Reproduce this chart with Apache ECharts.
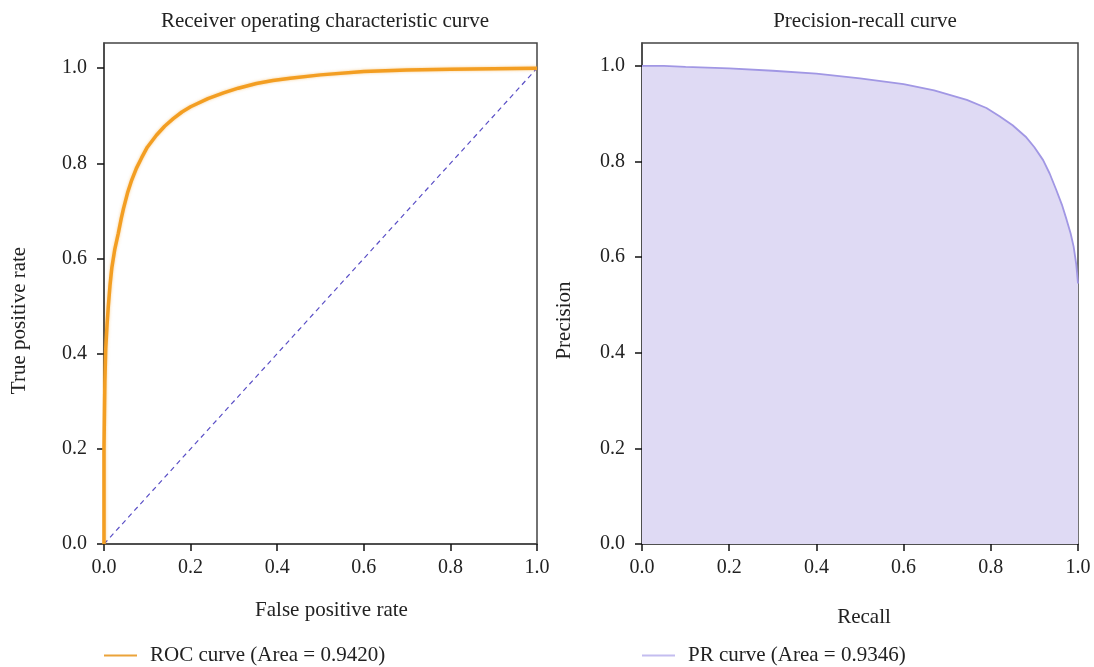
<!DOCTYPE html>
<html>
<head>
<meta charset="utf-8">
<script src="https://cdn.jsdelivr.net/npm/echarts@6/dist/echarts.min.js"></script>
<style>
html,body{margin:0;padding:0;background:#fff;}
#main{width:1094px;height:667px;}
</style>
</head>
<body>
<div id="main"></div>
<script>
// ROC curve points
var rocFpr = [0, 0, 0.002, 0.004, 0.007, 0.01, 0.014, 0.018, 0.025, 0.033, 0.04, 0.045, 0.055, 0.064, 0.075, 0.087, 0.1, 0.121, 0.14, 0.16, 0.18, 0.2, 0.24, 0.276, 0.31, 0.352, 0.39, 0.43, 0.5, 0.6, 0.7, 0.8, 0.9, 1.0];
var rocTpr = [0, 0.2, 0.34, 0.41, 0.46, 0.5, 0.545, 0.58, 0.62, 0.653, 0.685, 0.705, 0.74, 0.765, 0.79, 0.812, 0.834, 0.859, 0.878, 0.894, 0.908, 0.919, 0.936, 0.948, 0.958, 0.968, 0.974, 0.979, 0.986, 0.993, 0.996, 0.998, 0.999, 1.0];
// chance diagonal
var diagX = [0, 1];
var diagY = [0, 1];
// PR curve points
var prRecall = [0, 0.05, 0.1, 0.2, 0.3, 0.4, 0.5, 0.6, 0.67, 0.745, 0.79, 0.82, 0.85, 0.88, 0.9, 0.92, 0.935, 0.95, 0.963, 0.974, 0.983, 0.99, 0.996, 1.0];
var prPrecision = [1.0, 1.0, 0.998, 0.995, 0.99, 0.984, 0.974, 0.962, 0.949, 0.929, 0.912, 0.895, 0.876, 0.852, 0.83, 0.803, 0.775, 0.741, 0.71, 0.678, 0.65, 0.622, 0.585, 0.545];
var tickValues = [0, 0.2, 0.4, 0.6, 0.8, 1.0];
var rocName = 'ROC curve (Area = 0.9420)';
var prName = 'PR curve (Area = 0.9346)';

function zip(a, b) {
    var out = [];
    for (var i = 0; i < a.length; i++) {
        out.push([a[i], b[i]]);
    }
    return out;
}

var fontFamily = 'Liberation Serif';
var textColor = '#222';

// namePad nudges the axis name along the axis (the originals are not centred)
function makeAxis(idx, name, gap, isY, max, namePad) {
    return {
        type: 'value',
        gridIndex: idx,
        min: 0,
        max: max,
        name: name,
        nameLocation: 'middle',
        nameGap: gap,
        nameTextStyle: {fontFamily: fontFamily, fontSize: 21, color: textColor, padding: namePad},
        axisLine: {show: true, lineStyle: {color: '#444', width: 1.5}},
        axisTick: {show: true, length: 7, customValues: tickValues, lineStyle: {color: '#111', width: 1.5}},
        axisLabel: {
            customValues: tickValues,
            margin: isY ? 17 : 14,
            fontFamily: fontFamily,
            fontSize: 20,
            color: textColor,
            formatter: function (v) { return v.toFixed(1); }
        },
        splitLine: {show: false}
    };
}

var myChart = echarts.init(document.getElementById('main'));
var option = {
    animation: false,
    backgroundColor: '#fff',
    title: [
        {text: 'Receiver operating characteristic curve', left: 320, top: 6, textAlign: 'center',
            textStyle: {fontFamily: fontFamily, fontSize: 21, fontWeight: 'normal', color: textColor}},
        {text: 'Precision-recall curve', left: 860, top: 6, textAlign: 'center',
            textStyle: {fontFamily: fontFamily, fontSize: 21, fontWeight: 'normal', color: textColor}}
    ],
    legend: [
        {
            left: 99, top: 640, icon: 'rect', itemWidth: 33, itemHeight: 2, itemGap: 10,
            textStyle: {fontFamily: fontFamily, fontSize: 21, color: textColor, padding: [0, 0, 0, 8]},
            data: [{name: rocName, itemStyle: {color: '#eba33a'}}]
        },
        {
            left: 637, top: 640, icon: 'rect', itemWidth: 33, itemHeight: 2, itemGap: 10,
            textStyle: {fontFamily: fontFamily, fontSize: 21, color: textColor, padding: [0, 0, 0, 8]},
            data: [{name: prName, itemStyle: {color: '#c4bdf0'}}]
        }
    ],
    grid: [
        {left: 104, right: 557, top: 43, bottom: 123, show: true, borderColor: '#444', borderWidth: 1.5, backgroundColor: '#fff'},
        {left: 642, right: 16, top: 43, bottom: 123, show: true, borderColor: '#444', borderWidth: 1.5, backgroundColor: '#fff'}
    ],
    xAxis: [
        makeAxis(0, 'False positive rate', 56, false, 1, [0, 0, 0, 22]),
        makeAxis(1, 'Recall', 63, false, 1, [0, 0, 0, 8])
    ],
    yAxis: [
        makeAxis(0, 'True positive rate', 74, true, 1.053, [0, 54, 0, 0]),
        makeAxis(1, 'Precision', 67, true, 1.048, [0, 54, 0, 0])
    ],
    series: [
        {
            name: 'chance',
            type: 'line',
            xAxisIndex: 0,
            yAxisIndex: 0,
            data: zip(diagX, diagY),
            showSymbol: false,
            lineStyle: {color: '#5a4fc6', width: 1.2, type: [5, 4]},
            z: 2
        },
        {
            name: rocName,
            type: 'line',
            xAxisIndex: 0,
            yAxisIndex: 0,
            data: zip(rocFpr, rocTpr),
            showSymbol: false,
            itemStyle: {color: '#f29b1d'},
            lineStyle: {color: '#f39e22', width: 3.5, shadowBlur: 3, shadowColor: 'rgba(242,155,29,0.5)'},
            z: 3
        },
        {
            name: prName,
            type: 'line',
            xAxisIndex: 1,
            yAxisIndex: 1,
            data: zip(prRecall, prPrecision),
            showSymbol: false,
            itemStyle: {color: '#c4bdf0'},
            lineStyle: {color: '#a197e4', width: 1.8},
            areaStyle: {color: '#dfdaf4', opacity: 1},
            z: 3
        }
    ]
};
myChart.setOption(option, true);
window.onresize = function () {
    myChart.resize();
};
</script>
</body>
</html>
